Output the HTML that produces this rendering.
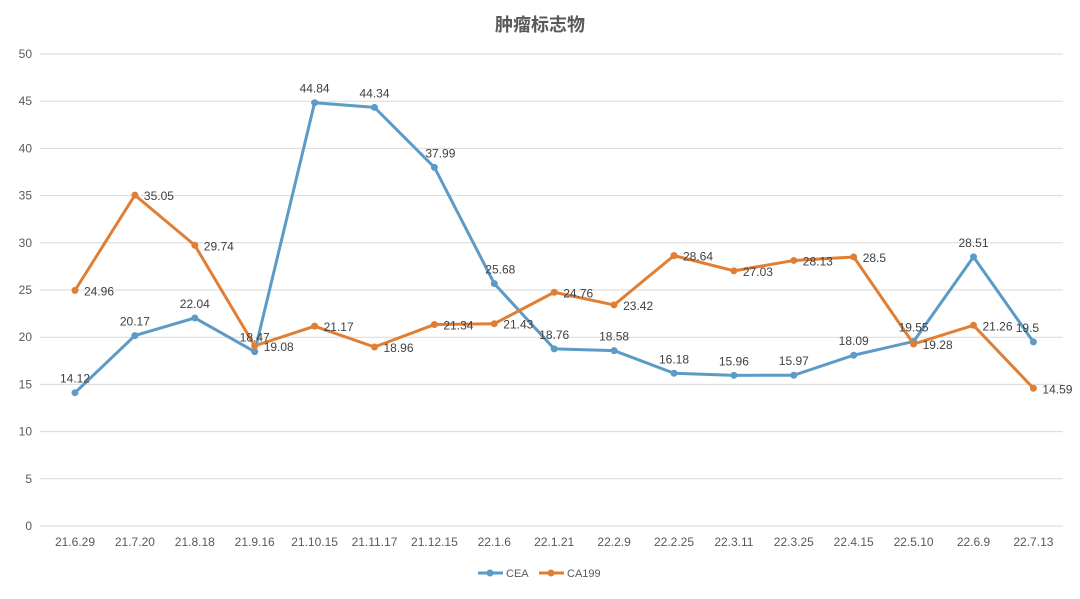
<!DOCTYPE html>
<html><head><meta charset="utf-8"><style>
html,body{margin:0;padding:0;background:#fff;}
svg text{font-family:"Liberation Sans","Noto Sans CJK SC",sans-serif;}
</style></head><body>
<svg id="c" width="1080" height="594" xmlns="http://www.w3.org/2000/svg">
<text x="540" y="31" text-anchor="middle" font-size="18" fill="#595959" font-weight="bold">肿瘤标志物</text>
</svg>
<script>
const s=document.getElementById('c');const NS='http://www.w3.org/2000/svg';
function el(t,a,txt){const e=document.createElementNS(NS,t);for(const k in a)e.setAttribute(k,a[k]);if(txt!=null)e.textContent=txt;s.appendChild(e);return e;}
const y=v=>526-v*9.44, x=i=>75+i*59.9;
for(let v=0;v<=50;v+=5){el('line',{x1:40,x2:1063,y1:y(v),y2:y(v),stroke:'#d9d9d9','stroke-width':1});
el('text',{x:32,y:y(v)+4,'text-anchor':'end','font-size':12,fill:'#595959'},v);}
const cats=['21.6.29','21.7.20','21.8.18','21.9.16','21.10.15','21.11.17','21.12.15','22.1.6','22.1.21','22.2.9','22.2.25','22.3.11','22.3.25','22.4.15','22.5.10','22.6.9','22.7.13'];
cats.forEach((c,i)=>el('text',{x:x(i),y:546,'text-anchor':'middle','font-size':12,fill:'#595959'},c));
const cea=[14.12,20.17,22.04,18.47,44.84,44.34,37.99,25.68,18.76,18.58,16.18,15.96,15.97,18.09,19.55,28.51,19.5];
const ca=[24.96,35.05,29.74,19.08,21.17,18.96,21.34,21.43,24.76,23.42,28.64,27.03,28.13,28.5,19.28,21.26,14.59];
function series(d,col){el('polyline',{points:d.map((v,i)=>x(i)+','+y(v)).join(' '),fill:'none',stroke:col,'stroke-width':3,'stroke-linejoin':'round'});
d.forEach((v,i)=>el('circle',{cx:x(i),cy:y(v),r:3.5,fill:col}));}
series(cea,'#5b9bc5');series(ca,'#e07f34');
cea.forEach((v,i)=>{let dx=0;if(i==6||i==7)dx=6;if(i==16)dx=-6;el('text',{x:x(i)+dx,y:y(v)-10,'text-anchor':'middle','font-size':12,fill:'#404040'},v);});
ca.forEach((v,i)=>el('text',{x:x(i)+9,y:y(v)+5,'font-size':12,fill:'#404040'},v));
el('line',{x1:478,x2:503,y1:573,y2:573,stroke:'#5b9bc5','stroke-width':3});el('circle',{cx:490,cy:573,r:3.5,fill:'#5b9bc5'});
el('text',{x:506,y:577,'font-size':11,fill:'#595959'},'CEA');
el('line',{x1:539,x2:564,y1:573,y2:573,stroke:'#e07f34','stroke-width':3});el('circle',{cx:551,cy:573,r:3.5,fill:'#e07f34'});
el('text',{x:567,y:577,'font-size':11,fill:'#595959'},'CA199');
</script>
</body></html>
